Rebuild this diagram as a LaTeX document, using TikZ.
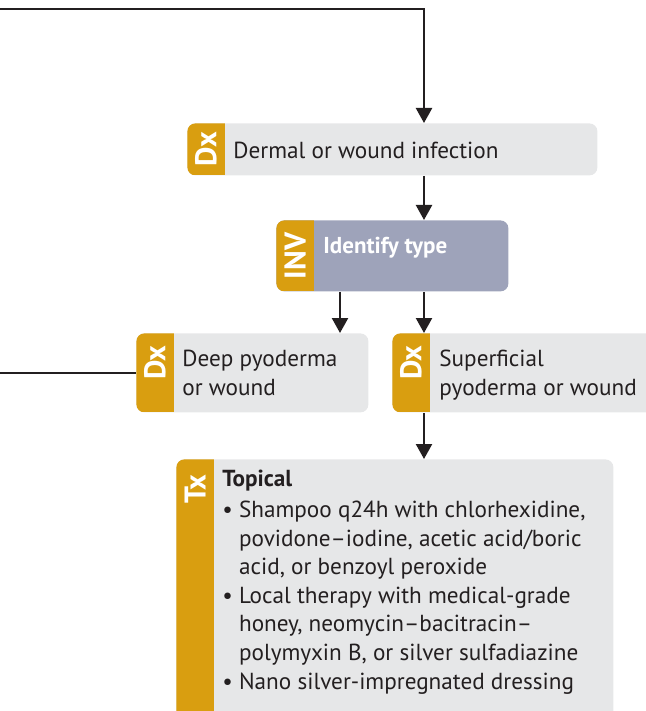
\documentclass[tikz,border=0pt]{standalone}
\usepackage{fontspec}
\setmainfont{PT Sans}
\usetikzlibrary{arrows.meta, positioning}
\definecolor{cgold}{HTML}{D99E10}
\definecolor{cink}{HTML}{231F20}
\definecolor{cpanel}{HTML}{E6E7E8}
\definecolor{cslate}{HTML}{9EA3BA}

\begin{document}
\begin{tikzpicture}[
  x=0.5pt, y=-0.5pt,
  font=\fontsize{11.6}{14.3}\selectfont,
  box/.style={fill=cpanel, rounded corners=4pt, anchor=north west, inner sep=0pt,
              path picture={\fill[cgold, sharp corners] (path picture bounding box.south west)
                rectangle ([xshift=19pt]path picture bounding box.north west);}},
  invbox/.style={box, fill=cslate},
  tag/.style={rotate=90, text=white, inner sep=0pt, font=\fontsize{15}{15}\selectfont\bfseries},
  txt/.style={text=cink, align=left, inner sep=0pt, anchor=base west},
  flow/.style={-{Triangle[length=7.5pt, width=8pt]}, line width=1.15pt, draw=cink},
  link/.style={line width=1.15pt, draw=cink}
]
\useasboundingbox (0,0) rectangle (645,711);
% boxes (multi-line texts sit on their last baseline)
\node[box, minimum width=205pt, minimum height=26pt] (derm) at (187,123) {};
\node[tag] at ([xshift=9.5pt]derm.west) {Dx};
\node[txt] (dermtxt) at (233,159) {Dermal or wound infection};

\node[invbox, minimum width=116pt, minimum height=35.5pt] (inv) at (276,220) {};
\node[tag] at ([xshift=9.5pt]inv.west) {INV};
\node[txt, text=white, font=\fontsize{11.5}{14}\selectfont\bfseries] (invtxt) at (323,253) {Identify type};

\node[box, minimum width=116pt, minimum height=39.5pt] (deep) at (136,333) {};
\node[tag, anchor=east] at ([xshift=9.5pt, yshift=-6pt]deep.north west) {Dx};
\node[txt] (deeptxt) at (182,395) {Deep pyoderma\\or wound};

\node[box, minimum width=140pt, minimum height=39.5pt] (superf) at (392,333) {};
\node[tag, anchor=east] at ([xshift=9.5pt, yshift=-6pt]superf.north west) {Dx};
\node[txt] (superftxt) at (439,395) {Superficial\\pyoderma or wound};

\node[box, minimum width=218.5pt, minimum height=135pt] (topical) at (176,459) {};
\node[tag, anchor=east] at ([xshift=9.5pt, yshift=-7.5pt]topical.north west) {Tx};
\node[txt] (topicaltxt) at (222,689) {\textbf{Topical}\\[1pt]
  \textbullet\ Shampoo q24h with chlorhexidine,\\
  \phantom{\textbullet\ }povidone--iodine, acetic acid/boric\\
  \phantom{\textbullet\ }acid, or benzoyl peroxide\\
  \textbullet\ Local therapy with medical-grade\\
  \phantom{\textbullet\ }honey, neomycin--bacitracin--\\
  \phantom{\textbullet\ }polymyxin B, or silver sulfadiazine\\
  \textbullet\ Nano silver-impregnated dressing};
% connectors
\coordinate (fromtop) at (0,9);
\coordinate (fromleft) at (0,373);
\coordinate (spine) at (424,0);
\coordinate (branch) at (340,0);
\draw[flow] (fromtop) -| (spine |- derm.north);
\draw[flow] (spine |- derm.south) -- (spine |- inv.north);
\draw[flow] (branch |- inv.south) -- (branch |- deep.north);
\draw[flow] (spine |- inv.south) -- (spine |- superf.north);
\draw[flow] (spine |- superf.south) -- (spine |- topical.north);
\draw[link] (fromleft) -- (deep.west |- fromleft);
\end{tikzpicture}
\end{document}
